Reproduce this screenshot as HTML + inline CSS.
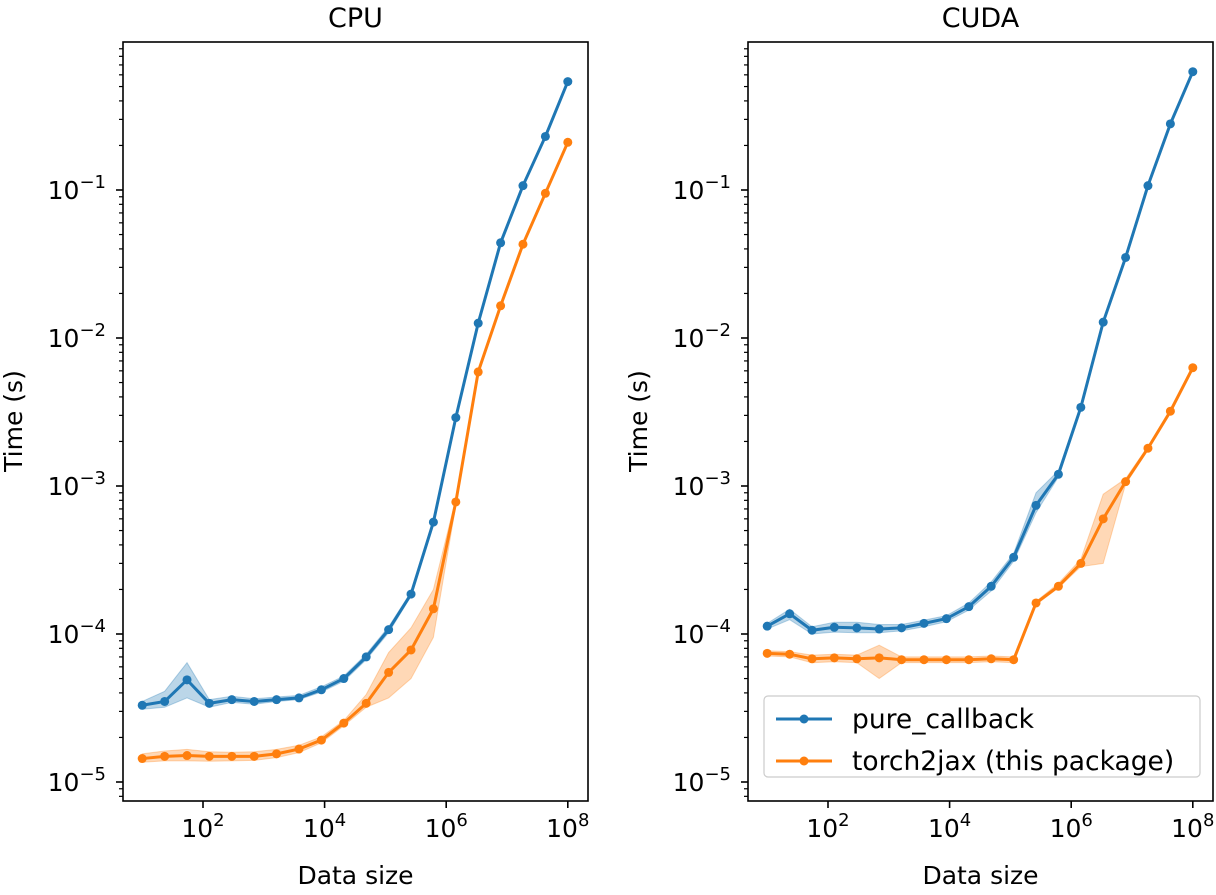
<!DOCTYPE html>
<html><head><meta charset="utf-8"><style>
body{margin:0;background:#fff;}
svg text{font-family:"DejaVu Sans","Liberation Sans",sans-serif;fill:#000;}
</style></head><body>
<svg id="chart" width="1216" height="890" xmlns="http://www.w3.org/2000/svg"></svg>
<script>
const xValues=[1e1,2.34e1,5.46e1,1.27e2,2.98e2,6.95e2,1.62e3,3.79e3,8.86e3,2.07e4,4.83e4,1.13e5,2.64e5,6.16e5,1.44e6,3.36e6,7.85e6,1.83e7,4.28e7,1e8];
const cpuPure=[3.3e-5,3.5e-5,4.9e-5,3.4e-5,3.6e-5,3.5e-5,3.6e-5,3.7e-5,4.2e-5,5.0e-5,7.0e-5,1.07e-4,1.86e-4,5.7e-4,2.9e-3,1.26e-2,4.4e-2,0.107,0.23,0.54];
const cpuPureLo=[3.1e-5,3.2e-5,3.7e-5,3.2e-5,3.45e-5,3.35e-5,3.5e-5,3.6e-5,4.05e-5,4.8e-5,6.7e-5,1.02e-4,1.8e-4,5.6e-4,2.85e-3,1.24e-2,4.3e-2,0.105,0.225,0.53];
const cpuPureHi=[3.5e-5,4.1e-5,6.4e-5,3.6e-5,3.8e-5,3.65e-5,3.75e-5,3.85e-5,4.4e-5,5.2e-5,7.3e-5,1.12e-4,1.92e-4,5.8e-4,2.95e-3,1.28e-2,4.5e-2,0.109,0.235,0.55];
const cpuT2j=[1.44e-5,1.49e-5,1.51e-5,1.49e-5,1.49e-5,1.49e-5,1.55e-5,1.67e-5,1.92e-5,2.5e-5,3.4e-5,5.5e-5,7.8e-5,1.48e-4,7.8e-4,5.9e-3,1.65e-2,4.3e-2,9.5e-2,0.21];
const cpuT2jLo=[1.36e-5,1.39e-5,1.39e-5,1.38e-5,1.39e-5,1.40e-5,1.46e-5,1.58e-5,1.84e-5,2.4e-5,3.2e-5,3.7e-5,5.0e-5,9.5e-5,7.4e-4,5.7e-3,1.6e-2,4.2e-2,9.3e-2,0.205];
const cpuT2jHi=[1.55e-5,1.62e-5,1.66e-5,1.6e-5,1.59e-5,1.6e-5,1.66e-5,1.77e-5,2.02e-5,2.6e-5,3.9e-5,7.5e-5,1.1e-4,2.0e-4,8.2e-4,6.1e-3,1.7e-2,4.4e-2,9.7e-2,0.215];
const cudaPure=[1.13e-4,1.37e-4,1.06e-4,1.11e-4,1.10e-4,1.08e-4,1.10e-4,1.18e-4,1.27e-4,1.53e-4,2.1e-4,3.3e-4,7.4e-4,1.2e-3,3.4e-3,1.28e-2,3.5e-2,0.107,0.28,0.63];
const cudaPureLo=[1.08e-4,1.25e-4,1.0e-4,1.03e-4,1.02e-4,1.02e-4,1.05e-4,1.12e-4,1.21e-4,1.45e-4,1.95e-4,3.1e-4,6.6e-4,1.15e-3,3.3e-3,1.25e-2,3.45e-2,0.105,0.275,0.62];
const cudaPureHi=[1.18e-4,1.47e-4,1.12e-4,1.2e-4,1.2e-4,1.16e-4,1.16e-4,1.24e-4,1.33e-4,1.62e-4,2.25e-4,3.5e-4,9.0e-4,1.27e-3,3.5e-3,1.31e-2,3.55e-2,0.109,0.285,0.64];
const cudaT2j=[7.4e-5,7.3e-5,6.8e-5,6.9e-5,6.8e-5,6.9e-5,6.7e-5,6.7e-5,6.7e-5,6.7e-5,6.8e-5,6.7e-5,1.62e-4,2.1e-4,3.0e-4,6.0e-4,1.07e-3,1.8e-3,3.2e-3,6.3e-3];
const cudaT2jLo=[7.1e-5,7.0e-5,6.4e-5,6.5e-5,6.4e-5,5.0e-5,6.4e-5,6.4e-5,6.4e-5,6.4e-5,6.5e-5,6.4e-5,1.58e-4,2.05e-4,2.85e-4,3.0e-4,1.03e-3,1.75e-3,3.1e-3,6.2e-3];
const cudaT2jHi=[7.7e-5,7.6e-5,7.2e-5,7.3e-5,7.2e-5,8.4e-5,7.0e-5,7.0e-5,7.0e-5,7.0e-5,7.1e-5,7.0e-5,1.66e-4,2.2e-4,3.2e-4,8.8e-4,1.12e-3,1.85e-3,3.3e-3,6.4e-3];
const xTickExps=[2,4,6,8];
const yTickExps=[-5,-4,-3,-2,-1];
const titles=["CPU","CUDA"];
const seriesNames=["pure_callback","torch2jax (this package)"];

const NS="http://www.w3.org/2000/svg";
const svg=document.getElementById('chart');
function mk(tag,attrs,parent){const e=document.createElementNS(NS,tag);for(const k in attrs)e.setAttribute(k,attrs[k]);(parent||svg).appendChild(e);return e;}
const BLUE="#1f77b4",ORANGE="#ff7f0e";
const panels=[{x0:123,x1:588,t:titles[0],pure:[cpuPure,cpuPureLo,cpuPureHi],t2j:[cpuT2j,cpuT2jLo,cpuT2jHi]},
              {x0:748,x1:1213,t:titles[1],pure:[cudaPure,cudaPureLo,cudaPureHi],t2j:[cudaT2j,cudaT2jLo,cudaT2jHi]}];
const yTop=42,yBot=801;
function yS(v){return 190+(-1-Math.log10(v))*148;}
panels.forEach((p,pi)=>{
  const g=mk('g',{});
  
  
  const xS=v=>p.x0+80+(Math.log10(v)-2)*60.8;
  function band(arr,col,name){
    let d='';arr[1].forEach((v,i)=>{d+=(i?'L':'M')+xS(xValues[i])+','+yS(v);});
    for(let i=arr[2].length-1;i>=0;i--)d+='L'+xS(xValues[i])+','+yS(arr[2][i]);
    const e=mk('path',{d:d+'Z',fill:col,'fill-opacity':0.3,stroke:col,'stroke-opacity':0.3},g);
    
    
  }
  function line(arr,col,name){
    const pts=arr.map((v,i)=>xS(xValues[i])+','+yS(v)).join(' ');
    const l=mk('polyline',{points:pts,fill:'none',stroke:col,'stroke-width':3},g);
    
    
    arr.forEach((v,i)=>{const c=mk('circle',{cx:xS(xValues[i]),cy:yS(v),r:4.5,fill:col},g);
      
      });
  }
  band(p.pure,BLUE,'pure-callback');band(p.t2j,ORANGE,'torch2jax');
  line(p.pure[0],BLUE,'pure-callback');line(p.t2j[0],ORANGE,'torch2jax');
  const fr=mk('rect',{x:p.x0,y:yTop,width:p.x1-p.x0,height:yBot-yTop,fill:'none',stroke:'#000','stroke-width':1.6},g);
  
  
  xTickExps.forEach(e=>{const x=xS(Math.pow(10,e));
    mk('line',{x1:x,x2:x,y1:yBot,y2:yBot+7,stroke:'#000','stroke-width':1.6},g);
    const t=mk('text',{x:x,y:yBot+36,'font-size':25,'text-anchor':'middle'},g);
    t.innerHTML='10<tspan dy="-11" font-size="18">'+e+'</tspan>';
    
    });
  yTickExps.forEach(e=>{const y=yS(Math.pow(10,e));
    mk('line',{x1:p.x0-7,x2:p.x0,y1:y,y2:y,stroke:'#000','stroke-width':1.6},g);
    const t=mk('text',{x:p.x0-17,y:y+9,'font-size':25,'text-anchor':'end'},g);
    t.innerHTML='10<tspan dy="-11" font-size="18">\u2212'+(-e)+'</tspan>';
    
    });
  for(let e=-6;e<=0;e++)for(let m=2;m<=9;m++){const y=yS(m*Math.pow(10,e));
    if(y>yTop&&y<yBot)mk('line',{x1:p.x0-4,x2:p.x0,y1:y,y2:y,stroke:'#000','stroke-width':1.2},g);}
  const tt=mk('text',{x:(p.x0+p.x1)/2,y:27,'font-size':27,'text-anchor':'middle'},g);
  tt.textContent=p.t;
  
  
  const xl=mk('text',{x:(p.x0+p.x1)/2,y:884,'font-size':25,'text-anchor':'middle'},g);
  xl.textContent='Data size';
  
  
  const yx=p.x0-101;
  const yl=mk('text',{x:yx,y:421,'font-size':25,'text-anchor':'middle',transform:'rotate(-90 '+yx+' 421)'},g);
  yl.textContent='Time (s)';
  
  
});
const lg=mk('g',{});


mk('rect',{x:764,y:696,width:436,height:81,rx:4,fill:'#fff','fill-opacity':0.8,stroke:'#ccc','stroke-width':1.2},lg);
[BLUE,ORANGE].forEach((c,i)=>{const y=719+i*42;
  mk('line',{x1:776,x2:832,y1:y,y2:y,stroke:c,'stroke-width':3},lg);
  mk('circle',{cx:804,cy:y,r:4.5,fill:c},lg);
  const t=mk('text',{x:852,y:y+9,'font-size':26.5},lg);t.textContent=seriesNames[i];
  
  });
</script>
</body></html>
